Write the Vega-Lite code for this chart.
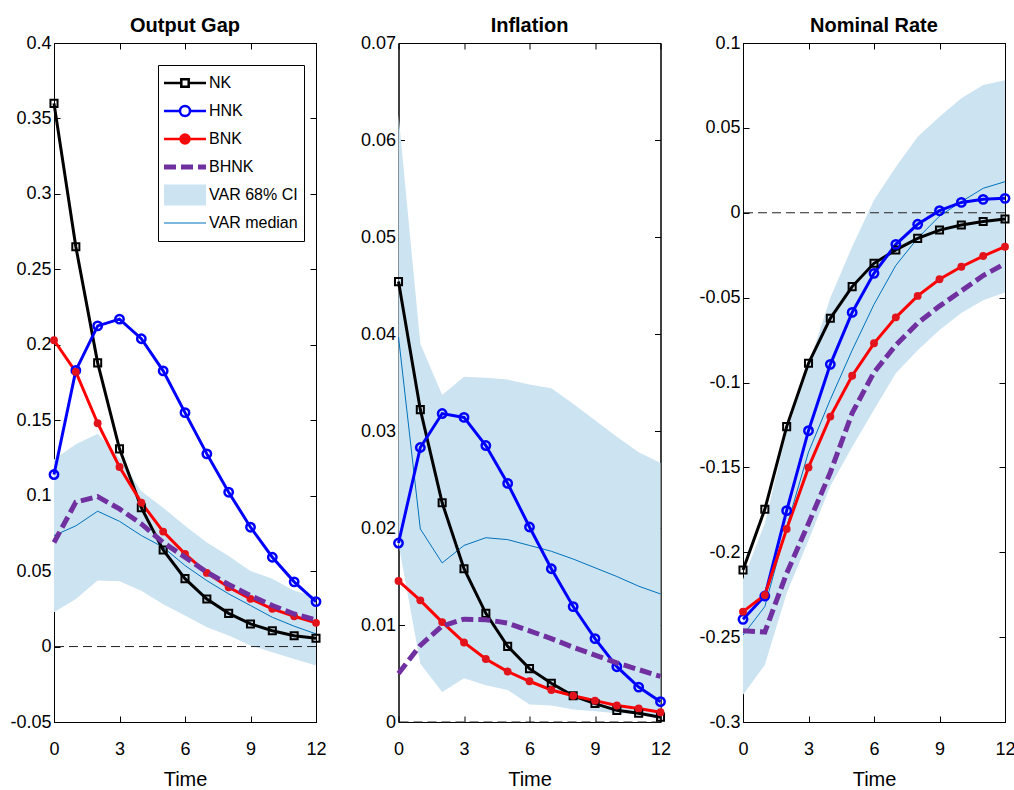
{
  "$schema": "https://vega.github.io/schema/vega-lite/v6.json",
  "padding": {"left": 9, "top": 15, "right": 0, "bottom": 0},
  "background": "white",
  "datasets": {
    "irf": [
      {"p":"OG","t":0,"NK":0.360,"HNK":0.114,"BNK":0.203,"BHNK":0.069,"med":0.0736,"lo":0.0228,"hi":0.124},
      {"p":"OG","t":1,"NK":0.265,"HNK":0.183,"BNK":0.182,"BHNK":0.0957,"med":0.080,"lo":0.0316,"hi":0.134},
      {"p":"OG","t":2,"NK":0.188,"HNK":0.2125,"BNK":0.148,"BHNK":0.0994,"med":0.0897,"lo":0.0437,"hi":0.141},
      {"p":"OG","t":3,"NK":0.131,"HNK":0.217,"BNK":0.119,"BHNK":0.0912,"med":0.083,"lo":0.0433,"hi":0.125},
      {"p":"OG","t":4,"NK":0.092,"HNK":0.204,"BNK":0.0954,"BHNK":0.0813,"med":0.0736,"lo":0.037,"hi":0.103},
      {"p":"OG","t":5,"NK":0.064,"HNK":0.1827,"BNK":0.0762,"BHNK":0.069,"med":0.0658,"lo":0.028,"hi":0.092},
      {"p":"OG","t":6,"NK":0.045,"HNK":0.155,"BNK":0.0614,"BHNK":0.0592,"med":0.0537,"lo":0.0205,"hi":0.080},
      {"p":"OG","t":7,"NK":0.0315,"HNK":0.1277,"BNK":0.0488,"BHNK":0.0493,"med":0.0437,"lo":0.0128,"hi":0.069},
      {"p":"OG","t":8,"NK":0.022,"HNK":0.1023,"BNK":0.0393,"BHNK":0.0411,"med":0.0349,"lo":0.0073,"hi":0.060},
      {"p":"OG","t":9,"NK":0.015,"HNK":0.0791,"BNK":0.0316,"BHNK":0.0338,"med":0.0272,"lo":0.0007,"hi":0.050},
      {"p":"OG","t":10,"NK":0.0105,"HNK":0.0592,"BNK":0.025,"BHNK":0.0272,"med":0.0194,"lo":-0.0038,"hi":0.045},
      {"p":"OG","t":11,"NK":0.0072,"HNK":0.0429,"BNK":0.0201,"BHNK":0.0216,"med":0.0135,"lo":-0.0082,"hi":0.037},
      {"p":"OG","t":12,"NK":0.0055,"HNK":0.0298,"BNK":0.0157,"BHNK":0.0177,"med":0.0084,"lo":-0.0126,"hi":0.033},
      {"p":"IN","t":0,"NK":0.0454,"HNK":0.01845,"BNK":0.01454,"BHNK":0.0050,"med":0.0397,"lo":0.0184,"hi":0.0626},
      {"p":"IN","t":1,"NK":0.0322,"HNK":0.0283,"BNK":0.01254,"BHNK":0.0079,"med":0.0199,"lo":0.0060,"hi":0.0390},
      {"p":"IN","t":2,"NK":0.0226,"HNK":0.0318,"BNK":0.0103,"BHNK":0.0099,"med":0.0164,"lo":0.0031,"hi":0.0337},
      {"p":"IN","t":3,"NK":0.0158,"HNK":0.0314,"BNK":0.0082,"BHNK":0.0106,"med":0.0182,"lo":0.0045,"hi":0.0356},
      {"p":"IN","t":4,"NK":0.0112,"HNK":0.0285,"BNK":0.0065,"BHNK":0.01055,"med":0.0190,"lo":0.0038,"hi":0.0355},
      {"p":"IN","t":5,"NK":0.0078,"HNK":0.0246,"BNK":0.0052,"BHNK":0.0102,"med":0.0188,"lo":0.0033,"hi":0.0353},
      {"p":"IN","t":6,"NK":0.0055,"HNK":0.0201,"BNK":0.0042,"BHNK":0.0094,"med":0.0182,"lo":0.0018,"hi":0.0348},
      {"p":"IN","t":7,"NK":0.0040,"HNK":0.0158,"BNK":0.0033,"BHNK":0.0086,"med":0.0176,"lo":0.0017,"hi":0.0344},
      {"p":"IN","t":8,"NK":0.0027,"HNK":0.0119,"BNK":0.0027,"BHNK":0.0077,"med":0.0168,"lo":0.0013,"hi":0.0328},
      {"p":"IN","t":9,"NK":0.0019,"HNK":0.0086,"BNK":0.0022,"BHNK":0.0069,"med":0.0159,"lo":0.0011,"hi":0.0311},
      {"p":"IN","t":10,"NK":0.0012,"HNK":0.0057,"BNK":0.0017,"BHNK":0.0061,"med":0.0150,"lo":0.0009,"hi":0.0294},
      {"p":"IN","t":11,"NK":0.0009,"HNK":0.0036,"BNK":0.0014,"BHNK":0.0054,"med":0.0140,"lo":0.0008,"hi":0.0278},
      {"p":"IN","t":12,"NK":0.0005,"HNK":0.0021,"BNK":0.0010,"BHNK":0.0047,"med":0.0132,"lo":0.0007,"hi":0.0267},
      {"p":"NR","t":0,"NK":-0.2105,"HNK":-0.2395,"BNK":-0.235,"BHNK":-0.2462,"med":-0.2488,"lo":-0.284,"hi":-0.216},
      {"p":"NR","t":1,"NK":-0.1747,"HNK":-0.2258,"BNK":-0.2252,"BHNK":-0.2470,"med":-0.232,"lo":-0.2664,"hi":-0.183},
      {"p":"NR","t":2,"NK":-0.126,"HNK":-0.1755,"BNK":-0.1863,"BHNK":-0.2124,"med":-0.185,"lo":-0.2242,"hi":-0.129},
      {"p":"NR","t":3,"NK":-0.0887,"HNK":-0.1284,"BNK":-0.150,"BHNK":-0.183,"med":-0.141,"lo":-0.193,"hi":-0.090},
      {"p":"NR","t":4,"NK":-0.0622,"HNK":-0.0893,"BNK":-0.1201,"BHNK":-0.153,"med":-0.110,"lo":-0.161,"hi":-0.050},
      {"p":"NR","t":5,"NK":-0.0435,"HNK":-0.0587,"BNK":-0.096,"BHNK":-0.118,"med":-0.081,"lo":-0.138,"hi":-0.020},
      {"p":"NR","t":6,"NK":-0.0298,"HNK":-0.0357,"BNK":-0.0769,"BHNK":-0.094,"med":-0.054,"lo":-0.116,"hi":0.0075},
      {"p":"NR","t":7,"NK":-0.0219,"HNK":-0.0186,"BNK":-0.0616,"BHNK":-0.078,"med":-0.031,"lo":-0.0946,"hi":0.027},
      {"p":"NR","t":8,"NK":-0.0151,"HNK":-0.0068,"BNK":-0.049,"BHNK":-0.065,"med":-0.015,"lo":-0.081,"hi":0.0448},
      {"p":"NR","t":9,"NK":-0.0102,"HNK":0.0012,"BNK":-0.0392,"BHNK":-0.055,"med":-0.002,"lo":-0.069,"hi":0.0566},
      {"p":"NR","t":10,"NK":-0.0072,"HNK":0.0061,"BNK":-0.0318,"BHNK":-0.046,"med":0.0065,"lo":-0.059,"hi":0.0674},
      {"p":"NR","t":11,"NK":-0.0052,"HNK":0.0079,"BNK":-0.0255,"BHNK":-0.037,"med":0.0144,"lo":-0.0515,"hi":0.0753},
      {"p":"NR","t":12,"NK":-0.0037,"HNK":0.0085,"BNK":-0.020,"BHNK":-0.030,"med":0.0183,"lo":-0.047,"hi":0.078}
    ]
  },
  "hconcat": [
    {
      "width": 262, "height": 679,
      "title": "Output Gap",
      "data": {"name": "irf"},
      "transform": [{"filter": "datum.p === 'OG'"}],
      "layer": [
        {"mark": {"type": "area", "color": "#cce3f1", "opacity": 1},
         "encoding": {
           "x": {"field": "t", "type": "quantitative", "scale": {"domain": [0, 12], "nice": false}, "axis": {"values": [0, 3, 6, 9, 12], "title": "Time"}},
           "y": {"field": "lo", "type": "quantitative", "scale": {"domain": [-0.05, 0.4], "nice": false, "zero": false}, "axis": {"values": [-0.05, 0, 0.05, 0.1, 0.15, 0.2, 0.25, 0.3, 0.35, 0.4], "labelExpr": "'' + datum.value", "title": null}},
           "y2": {"field": "hi"}}},
        {"transform": [{"filter": "datum.t === 0"}], "mark": {"type": "rule", "strokeDash": [9, 5], "color": "#222222", "strokeWidth": 1},
         "encoding": {"y": {"datum": 0, "type": "quantitative", "axis": null}}},
        {"mark": {"type": "line", "color": "#0072bd", "strokeWidth": 1},
         "encoding": {
           "x": {"field": "t", "type": "quantitative", "axis": {"orient": "top", "labels": false, "title": null, "values": [0, 3, 6, 9, 12]}},
           "y": {"field": "med", "type": "quantitative", "axis": {"orient": "right", "labels": false, "title": null, "values": [-0.05, 0, 0.05, 0.1, 0.15, 0.2, 0.25, 0.3, 0.35, 0.4]}}}},
        {"transform": [{"fold": ["NK", "HNK", "BNK"], "as": ["s", "v"]}],
         "mark": {"type": "line", "strokeWidth": 3},
         "encoding": {
           "x": {"field": "t", "type": "quantitative", "axis": null},
           "y": {"field": "v", "type": "quantitative", "axis": null},
           "color": {"field": "s", "type": "nominal",
             "scale": {"domain": ["NK", "HNK", "BNK", "BHNK", "VAR 68% CI", "VAR median"], "range": ["#000000", "#0000ff", "#ff0000", "#7030a0", "transparent", "transparent"]},
             "legend": {
               "orient": "none", "legendX": 104, "legendY": 22, "title": null,
               "strokeColor": "#000000", "fillColor": "#ffffff", "padding": 6, "cornerRadius": 0,
               "labelFontSize": 16, "labelFont": "Liberation Sans", "labelColor": "#000000",
               "labelOffset": 29, "rowPadding": 4, "clipHeight": 24, "symbolOffset": 0, "symbolSize": 4, "symbolStrokeWidth": 2.5,
               "encode": {"symbols": {"update": {
                 "shape": {"signal": "datum.value === 'NK' ? 'M-8,0H9.3M16.7,0H34M9.3,-3.7H16.7V3.7H9.3Z' : datum.value === 'HNK' ? 'M-8,0H8M18,0H34M18,0A5,5,0,1,1,8,0A5,5,0,1,1,18,0' : datum.value === 'BNK' ? 'M-8,0H34M17.5,0A4.5,4.5,0,1,1,8.5,0A4.5,4.5,0,1,1,17.5,0' : datum.value === 'BHNK' ? 'M-6.75,-1.25H2.75V1.25H-6.75ZM10.25,-1.25H19.75V1.25H10.25ZM27.25,-1.25H32.75V1.25H27.25Z' : datum.value === 'VAR 68% CI' ? 'M-8,-10.5H34V10.5H-8Z' : 'M-8,-0.6H34V0.6H-8Z'"},
                 "size": {"value": 4},
                 "stroke": {"signal": "datum.value === 'NK' ? '#000000' : datum.value === 'HNK' ? '#0000ff' : datum.value === 'BNK' ? '#ff0000' : datum.value === 'BHNK' ? '#7030a0' : 'transparent'"},
                 "fill": {"signal": "datum.value === 'BNK' ? '#e3131b' : datum.value === 'BHNK' ? '#7030a0' : datum.value === 'VAR 68% CI' ? '#cce3f1' : datum.value === 'VAR median' ? '#0072bd' : 'transparent'"},
                 "strokeWidth": {"value": 2.5},
                 "opacity": {"value": 1}
               }}}
             }}}},
        {"mark": {"type": "point", "shape": "square", "filled": false, "color": "#000000", "strokeWidth": 2, "size": 50, "opacity": 1},
         "encoding": {"x": {"field": "t", "type": "quantitative", "axis": null}, "y": {"field": "NK", "type": "quantitative", "axis": null}}},
        {"mark": {"type": "point", "shape": "circle", "filled": false, "color": "#0000ff", "strokeWidth": 2.5, "size": 70, "opacity": 1},
         "encoding": {"x": {"field": "t", "type": "quantitative", "axis": null}, "y": {"field": "HNK", "type": "quantitative", "axis": null}}},
        {"mark": {"type": "point", "shape": "circle", "filled": true, "color": "#e3131b", "size": 62, "opacity": 1},
         "encoding": {"x": {"field": "t", "type": "quantitative", "axis": null}, "y": {"field": "BNK", "type": "quantitative", "axis": null}}},
        {"mark": {"type": "line", "color": "#7030a0", "strokeWidth": 5, "strokeDash": [12, 5]},
         "encoding": {"x": {"field": "t", "type": "quantitative", "axis": null}, "y": {"field": "BHNK", "type": "quantitative", "axis": null}}}
      ],
      "resolve": {"axis": {"x": "independent", "y": "independent"}}
    },
    {
      "width": 262, "height": 679,
      "title": "Inflation",
      "data": {"name": "irf"},
      "transform": [{"filter": "datum.p === 'IN'"}],
      "layer": [
        {"mark": {"type": "area", "color": "#cce3f1", "opacity": 1},
         "encoding": {
           "x": {"field": "t", "type": "quantitative", "scale": {"domain": [0, 12], "nice": false}, "axis": {"values": [0, 3, 6, 9, 12], "title": "Time"}},
           "y": {"field": "lo", "type": "quantitative", "scale": {"domain": [0, 0.07], "nice": false, "zero": false}, "axis": {"values": [0, 0.01, 0.02, 0.03, 0.04, 0.05, 0.06, 0.07], "labelExpr": "'' + datum.value", "title": null}},
           "y2": {"field": "hi"}}},
        {"transform": [{"filter": "datum.t === 0"}], "mark": {"type": "rule", "strokeDash": [9, 5], "color": "#222222", "strokeWidth": 1},
         "encoding": {"y": {"datum": 0, "type": "quantitative", "axis": null}}},
        {"mark": {"type": "line", "color": "#0072bd", "strokeWidth": 1},
         "encoding": {
           "x": {"field": "t", "type": "quantitative", "axis": {"orient": "top", "labels": false, "title": null, "values": [0, 3, 6, 9, 12]}},
           "y": {"field": "med", "type": "quantitative", "axis": {"orient": "right", "labels": false, "title": null, "values": [0, 0.01, 0.02, 0.03, 0.04, 0.05, 0.06, 0.07]}}}},
        {"transform": [{"fold": ["NK", "HNK", "BNK"], "as": ["s", "v"]}],
         "mark": {"type": "line", "strokeWidth": 3},
         "encoding": {
           "x": {"field": "t", "type": "quantitative", "axis": null},
           "y": {"field": "v", "type": "quantitative", "axis": null},
           "color": {"field": "s", "type": "nominal",
             "scale": {"domain": ["NK", "HNK", "BNK"], "range": ["#000000", "#0000ff", "#ff0000"]},
             "legend": null}}},
        {"mark": {"type": "point", "shape": "square", "filled": false, "color": "#000000", "strokeWidth": 2, "size": 50, "opacity": 1},
         "encoding": {"x": {"field": "t", "type": "quantitative", "axis": null}, "y": {"field": "NK", "type": "quantitative", "axis": null}}},
        {"mark": {"type": "point", "shape": "circle", "filled": false, "color": "#0000ff", "strokeWidth": 2.5, "size": 70, "opacity": 1},
         "encoding": {"x": {"field": "t", "type": "quantitative", "axis": null}, "y": {"field": "HNK", "type": "quantitative", "axis": null}}},
        {"mark": {"type": "point", "shape": "circle", "filled": true, "color": "#e3131b", "size": 62, "opacity": 1},
         "encoding": {"x": {"field": "t", "type": "quantitative", "axis": null}, "y": {"field": "BNK", "type": "quantitative", "axis": null}}},
        {"mark": {"type": "line", "color": "#7030a0", "strokeWidth": 5, "strokeDash": [12, 5]},
         "encoding": {"x": {"field": "t", "type": "quantitative", "axis": null}, "y": {"field": "BHNK", "type": "quantitative", "axis": null}}}
      ],
      "resolve": {"axis": {"x": "independent", "y": "independent"}}
    },
    {
      "width": 262, "height": 679,
      "title": "Nominal Rate",
      "data": {"name": "irf"},
      "transform": [{"filter": "datum.p === 'NR'"}],
      "layer": [
        {"mark": {"type": "area", "color": "#cce3f1", "opacity": 1},
         "encoding": {
           "x": {"field": "t", "type": "quantitative", "scale": {"domain": [0, 12], "nice": false}, "axis": {"values": [0, 3, 6, 9, 12], "title": "Time"}},
           "y": {"field": "lo", "type": "quantitative", "scale": {"domain": [-0.3, 0.1], "nice": false, "zero": false}, "axis": {"values": [-0.3, -0.25, -0.2, -0.15, -0.1, -0.05, 0, 0.05, 0.1], "labelExpr": "'' + datum.value", "title": null}},
           "y2": {"field": "hi"}}},
        {"transform": [{"filter": "datum.t === 0"}], "mark": {"type": "rule", "strokeDash": [9, 5], "color": "#222222", "strokeWidth": 1},
         "encoding": {"y": {"datum": 0, "type": "quantitative", "axis": null}}},
        {"mark": {"type": "line", "color": "#0072bd", "strokeWidth": 1},
         "encoding": {
           "x": {"field": "t", "type": "quantitative", "axis": {"orient": "top", "labels": false, "title": null, "values": [0, 3, 6, 9, 12]}},
           "y": {"field": "med", "type": "quantitative", "axis": {"orient": "right", "labels": false, "title": null, "values": [-0.3, -0.25, -0.2, -0.15, -0.1, -0.05, 0, 0.05, 0.1]}}}},
        {"transform": [{"fold": ["NK", "HNK", "BNK"], "as": ["s", "v"]}],
         "mark": {"type": "line", "strokeWidth": 3},
         "encoding": {
           "x": {"field": "t", "type": "quantitative", "axis": null},
           "y": {"field": "v", "type": "quantitative", "axis": null},
           "color": {"field": "s", "type": "nominal",
             "scale": {"domain": ["NK", "HNK", "BNK"], "range": ["#000000", "#0000ff", "#ff0000"]},
             "legend": null}}},
        {"mark": {"type": "point", "shape": "square", "filled": false, "color": "#000000", "strokeWidth": 2, "size": 50, "opacity": 1},
         "encoding": {"x": {"field": "t", "type": "quantitative", "axis": null}, "y": {"field": "NK", "type": "quantitative", "axis": null}}},
        {"mark": {"type": "point", "shape": "circle", "filled": false, "color": "#0000ff", "strokeWidth": 2.5, "size": 70, "opacity": 1},
         "encoding": {"x": {"field": "t", "type": "quantitative", "axis": null}, "y": {"field": "HNK", "type": "quantitative", "axis": null}}},
        {"mark": {"type": "point", "shape": "circle", "filled": true, "color": "#e3131b", "size": 62, "opacity": 1},
         "encoding": {"x": {"field": "t", "type": "quantitative", "axis": null}, "y": {"field": "BNK", "type": "quantitative", "axis": null}}},
        {"mark": {"type": "line", "color": "#7030a0", "strokeWidth": 5, "strokeDash": [12, 5]},
         "encoding": {"x": {"field": "t", "type": "quantitative", "axis": null}, "y": {"field": "BHNK", "type": "quantitative", "axis": null}}}
      ],
      "resolve": {"axis": {"x": "independent", "y": "independent"}}
    }
  ],
  "spacing": 82.5,
  "bounds": "flush",
  "resolve": {"scale": {"x": "independent", "y": "independent", "color": "independent"}, "legend": {"color": "independent"}},
  "config": {
    "font": "Liberation Sans",
    "view": {"stroke": "#000000", "strokeWidth": 1},
    "axis": {
      "grid": false, "domainColor": "#000000", "domainWidth": 1, "tickColor": "#000000", "tickWidth": 1, "tickSize": -6,
      "labelColor": "#000000", "labelFont": "Liberation Sans", "labelFontSize": 18, "labelFlush": false, "labelOverlap": false,
      "titleColor": "#000000", "titleFont": "Liberation Sans", "titleFontSize": 20, "titleFontWeight": "normal"
    },
    "axisX": {"labelPadding": 24, "titlePadding": 11},
    "axisY": {"labelPadding": 9},
    "title": {"font": "Liberation Sans", "fontSize": 20, "fontWeight": "bold", "color": "#000000", "offset": -2, "anchor": "middle", "frame": "group"}
  }
}
